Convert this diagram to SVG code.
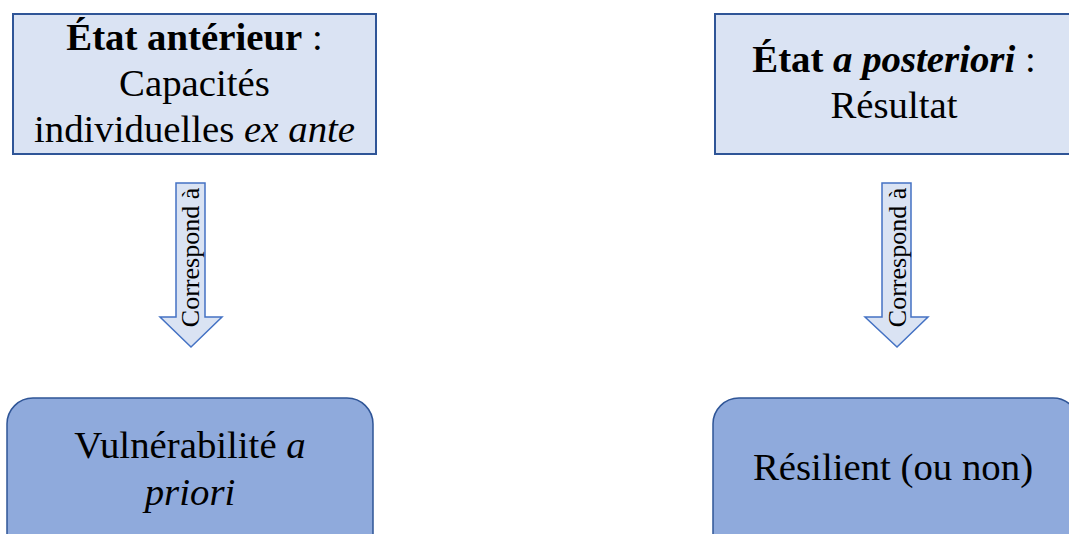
<svg xmlns="http://www.w3.org/2000/svg" width="1069" height="534" viewBox="0 0 1069 534">
<style>
.top{fill:#DAE3F3;stroke:#2F5597;stroke-width:2}
.bot{fill:#8FAADC;stroke:#2F5597;stroke-width:1.5}
.arr{fill:#DAE3F3;stroke:#4472C4;stroke-width:1.5}
text{font-family:"Liberation Serif","Times New Roman",serif;fill:#000;text-anchor:middle}
.big{font-size:38.8px}
.small{font-size:26px}
</style>
<rect width="1069" height="534" fill="#fff"/>
<g id="etat-anterieur">
<rect class="top" x="13" y="14" width="363" height="140"/>
<text class="big" x="194.5" y="50"><tspan font-weight="bold">État antérieur</tspan> :</text>
<text class="big" x="194.5" y="96">Capacités</text>
<text class="big" x="194.5" y="142">individuelles <tspan font-style="italic">ex ante</tspan></text>
</g>
<g id="etat-posteriori">
<rect class="top" x="715" y="14" width="360" height="140"/>
<text class="big" x="894" y="72"><tspan font-weight="bold">État <tspan font-style="italic">a posteriori</tspan></tspan> :</text>
<text class="big" x="894" y="118">Résultat</text>
</g>
<g id="connectors">
<g id="arrow-left">
<path class="arr" d="M176,183 H205 V317 H222 L191,347 L160,317 H176 Z"/>
<text class="small" transform="translate(199,257.5) rotate(-90)">Correspond à</text>
</g>
<g id="arrow-right">
<path class="arr" d="M882,183 H911 V317 H928 L897,347 L865,317 H882 Z"/>
<text class="small" transform="translate(906,257.5) rotate(-90)">Correspond à</text>
</g>
</g>
<g id="vulnerabilite">
<rect class="bot" x="7" y="398" width="366" height="170" rx="26" ry="26"/>
<text class="big" x="190" y="458">Vulnérabilité <tspan font-style="italic">a</tspan></text>
<text class="big" x="190" y="505" font-style="italic">priori</text>
</g>
<g id="resilient">
<rect class="bot" x="713" y="398" width="366" height="170" rx="26" ry="26"/>
<text class="big" x="893" y="480">Résilient (ou non)</text>
</g>
</svg>
